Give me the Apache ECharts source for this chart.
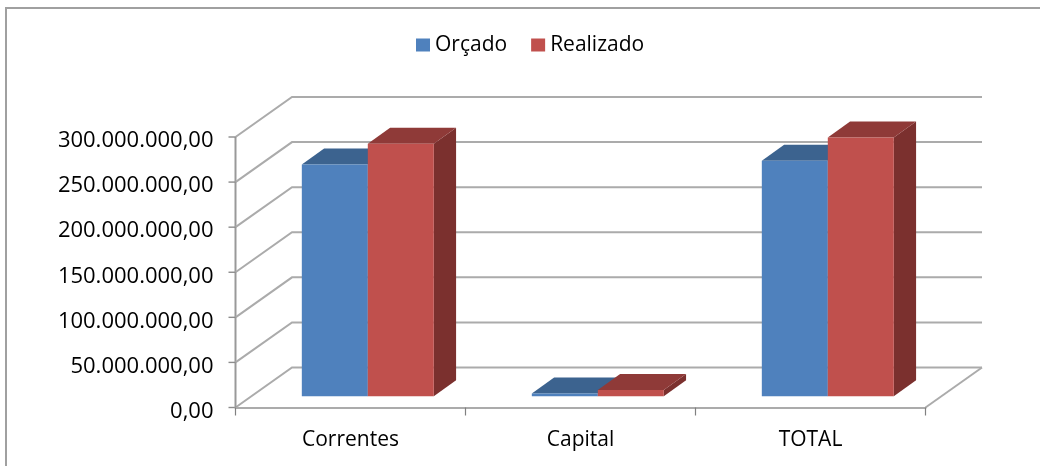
<!DOCTYPE html>
<html><head><meta charset="utf-8">
<script src="https://cdn.jsdelivr.net/npm/echarts@6/dist/echarts.min.js"></script>
<style>html,body{margin:0;padding:0;background:#fff}#c{width:1040px;height:466px}</style>
</head><body><div id="c"></div>
<script>
const categories = ['Correntes', 'Capital', 'TOTAL'];
const orcado = [257000000, 3000000, 261000000];
const realizado = [280000000, 7000000, 287000000];
const yTicks = [0, 50000000, 100000000, 150000000, 200000000, 250000000, 300000000];

const FONT = '"Open Sans"';
const WALL_DX = 56.5, WALL_DY = -40;       // depth of the 3D box
const BAR_DX = 16, BAR_DY = -11.3;         // bar front offset from the front plane
const BAR_DEPTH_DX = 22.3, BAR_DEPTH_DY = -16;
const BAR_SHIFT = 1.3;

function fmt(v) {
  const s = String(Math.round(v)).replace(/\B(?=(\d{3})+(?!\d))/g, '.');
  return s + ',00';
}

function wallItem(params, api) {
  const cs = params.coordSys;
  const y = api.coord([0, api.value(0)])[1];
  const x0 = cs.x, x1 = cs.x + cs.width;
  const children = [{
    type: 'polyline',
    shape: { points: [[x0, y], [x0 + WALL_DX, y + WALL_DY], [x1 + WALL_DX, y + WALL_DY]] },
    style: { stroke: '#ababab', lineWidth: 2, fill: null }
  }, {
    type: 'line',
    shape: { x1: x0 - 7, y1: y, x2: x0, y2: y },
    style: { stroke: '#8c8c8c', lineWidth: 1.4 }
  }];
  if (api.value(0) === 0) {
    children.push({
      type: 'line',
      shape: { x1: x1, y1: y, x2: x1 + WALL_DX, y2: y + WALL_DY },
      style: { stroke: '#ababab', lineWidth: 2 }
    }, {
      type: 'line',
      shape: { x1: x0, y1: cs.y, x2: x0, y2: cs.y + cs.height },
      style: { stroke: '#999999', lineWidth: 2 }
    });
  }
  return { type: 'group', children };
}

function barRenderer(side, front, top, right) {
  return function (params, api) {
    const cat = api.value(0), val = api.value(1);
    const base = api.coord([cat, 0]);
    const head = api.coord([cat, val]);
    const w = api.size([1, 0])[0] * 0.2869;
    const cx = base[0] + BAR_DX + BAR_SHIFT;
    const xa = side < 0 ? cx - w : cx;
    const xb = xa + w;
    const yb = base[1] + BAR_DY;
    const yt = head[1] + BAR_DY;
    const dx = BAR_DEPTH_DX, dy = BAR_DEPTH_DY;
    return {
      type: 'group',
      children: [
        { type: 'polygon', shape: { points: [[xb, yt], [xb + dx, yt + dy], [xb + dx, yb + dy], [xb, yb]] }, style: { fill: right } },
        { type: 'polygon', shape: { points: [[xa, yt], [xa + dx, yt + dy], [xb + dx, yt + dy], [xb, yt]] }, style: { fill: top } },
        { type: 'rect', shape: { x: xa, y: yt, width: w, height: yb - yt }, style: { fill: front } }
      ]
    };
  };
}

const chart = echarts.init(document.getElementById('c'), null, { renderer: 'canvas' });
chart.setOption({
  animation: false,
  backgroundColor: '#fff',
  textStyle: { fontFamily: FONT },
  graphic: [
    { type: 'polyline', silent: true, shape: { points: [[6, 466], [6, 8], [1040, 8]] }, style: { stroke: '#a0a0a0', lineWidth: 2, fill: null } }
  ],
  legend: {
    left: 411, top: 29.5, icon: 'rect', itemWidth: 14, itemHeight: 13, itemGap: 24,
    data: [{ name: 'Orçado', itemStyle: { color: '#4f81bd' } }, { name: 'Realizado', itemStyle: { color: '#c0504d' } }],
    textStyle: { fontFamily: FONT, fontSize: 21, color: '#000' }
  },
  grid: { left: 235.5, right: 114.5, top: 137, bottom: 58.5 },
  xAxis: {
    type: 'category', data: categories, z: 5,
    axisLine: { show: true, lineStyle: { color: '#ababab', width: 2 } },
    axisTick: { show: true, length: 8, lineStyle: { color: '#808080', width: 1.2 } },
    axisLabel: { fontFamily: FONT, fontSize: 21, color: '#000', margin: 22 },
    splitLine: { show: false }
  },
  yAxis: {
    type: 'value', min: 0, max: 300000000, interval: 50000000, z: 5,
    axisLine: { show: false },
    axisTick: { show: false },
    axisLabel: { fontFamily: FONT, fontSize: 22, color: '#000', margin: 22, verticalAlign: 'top', lineHeight: 8, formatter: fmt },
    splitLine: { show: false }
  },
  series: [
    { type: 'custom', name: 'walls', silent: true, z: 1, data: yTicks.map(v => [v]), renderItem: wallItem, encode: { y: 0 }, clip: false },
    { type: 'custom', name: 'Orçado', z: 3, clip: false, itemStyle: { color: '#4f81bd' },
      data: orcado.map((v, i) => [i, v]), encode: { x: 0, y: 1 },
      renderItem: barRenderer(-1, '#4f81bd', '#3c638f', '#37597f') },
    { type: 'custom', name: 'Realizado', z: 4, clip: false, itemStyle: { color: '#c0504d' },
      data: realizado.map((v, i) => [i, v]), encode: { x: 0, y: 1 },
      renderItem: barRenderer(1, '#c0504d', '#8f3a38', '#7b302e') }
  ]
});
</script></body></html>
